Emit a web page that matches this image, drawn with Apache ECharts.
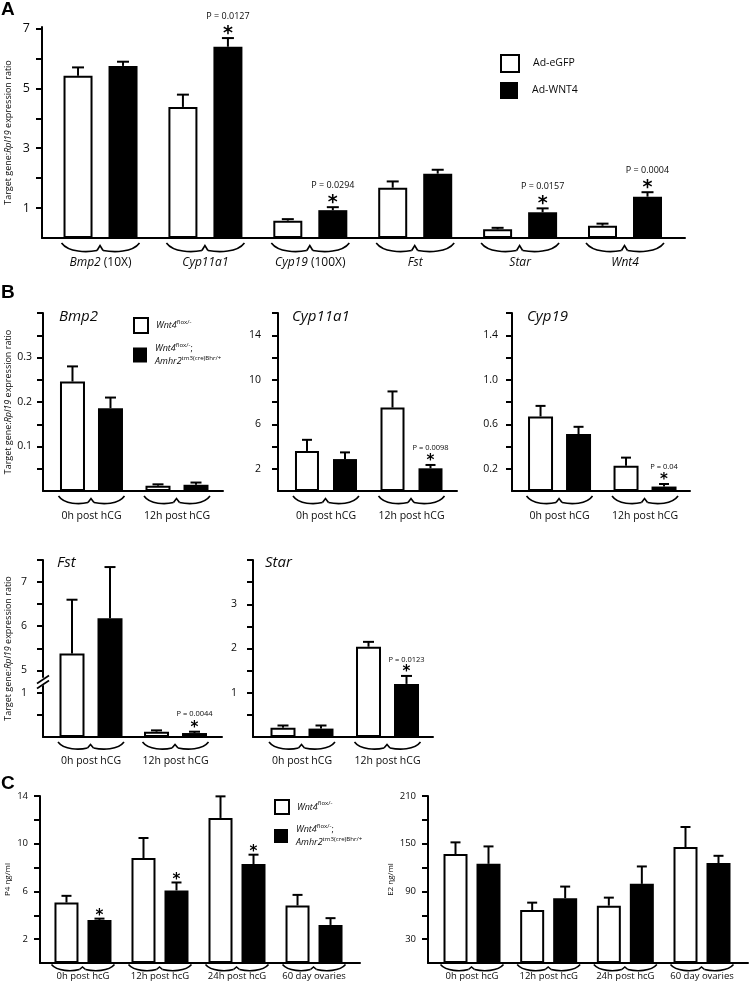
<!DOCTYPE html>
<html><head><meta charset="utf-8">
<script src="https://cdn.jsdelivr.net/npm/echarts@6/dist/echarts.min.js"></script>
<style>html,body{margin:0;padding:0;background:#fff}#c{width:749px;height:990px}</style>
</head><body><div id="c"></div>
<script>
// ================= DATA =================
// Panel A
const aGenes = ['Bmp2', 'Cyp11a1', 'Cyp19', 'Fst', 'Star', 'Wnt4'];
const aGeneNotes = [' (10X)', '', ' (100X)', '', '', ''];
const aEgfp = [5.42, 4.38, 0.58, 1.68, 0.29, 0.41];
const aEgfpSem = [0.28, 0.41, 0.05, 0.21, 0.05, 0.07];
const aWnt4 = [5.75, 6.39, 0.93, 2.15, 0.86, 1.38];
const aWnt4Sem = [0.14, 0.29, 0.10, 0.13, 0.13, 0.15];
const aStars = [false, true, true, false, true, true];
const aPLabels = ['', 'P = 0.0127', 'P = 0.0294', '', 'P = 0.0157', 'P = 0.0004'];
const aYTicks = [1, 2, 3, 4, 5, 6, 7];
const aYLabels = [1, 3, 5, 7];

// Panel B
const bTimes = ['0h post hCG', '12h post hCG'];
const bmp2Ctrl = [0.246, 0.012], bmp2CtrlSem = [0.034, 0.003];
const bmp2Cko = [0.186, 0.014], bmp2CkoSem = [0.024, 0.005];
const bmp2Stars = [false, false], bmp2P = ['', ''];
const bmp2YTicks = [0.05, 0.1, 0.15, 0.2, 0.25, 0.3, 0.35, 0.4];
const bmp2YLabels = [0.1, 0.2, 0.3];

const cyp11Ctrl = [3.6, 7.5], cyp11CtrlSem = [1.0, 1.45];
const cyp11Cko = [2.87, 2.04], cyp11CkoSem = [0.6, 0.3];
const cyp11Stars = [false, true], cyp11P = ['', 'P = 0.0098'];
const cyp11YTicks = [2, 4, 6, 8, 10, 12, 14, 16];
const cyp11YLabels = [2, 6, 10, 14];

const cyp19Ctrl = [0.67, 0.227], cyp19CtrlSem = [0.095, 0.073];
const cyp19Cko = [0.512, 0.04], cyp19CkoSem = [0.065, 0.023];
const cyp19Stars = [false, true], cyp19P = ['', 'P = 0.04'];
const cyp19YTicks = [0.2, 0.4, 0.6, 0.8, 1.0, 1.2, 1.4, 1.6];
const cyp19YLabels = [0.2, 0.6, 1.0, 1.4];

const fstCtrl = [5.38, 0.12], fstCtrlSem = [1.22, 0.03];
const fstCko = [6.18, 0.09], fstCkoSem = [1.16, 0.03];
const fstStars = [false, true], fstP = ['', 'P = 0.0044'];
const fstYTicks = [0.5, 1, 5, 5.5, 6, 6.5, 7, 7.5];
const fstYLabels = [1, 5, 6, 7];
const fstBreakStart = 1.2, fstBreakEnd = 4.85;

const starCtrl = [0.21, 2.04], starCtrlSem = [0.05, 0.11];
const starCko = [0.19, 1.2], starCkoSem = [0.07, 0.18];
const starStars = [false, true], starP = ['', 'P = 0.0123'];
const starYTicks = [0.5, 1, 1.5, 2, 2.5, 3, 3.5, 4];
const starYLabels = [1, 2, 3];

// Panel C
const cTimes = ['0h post hcG', '12h post hcG', '24h post hcG', '60 day ovaries'];
const p4Ctrl = [5.07, 8.8, 12.16, 4.82], p4CtrlSem = [0.56, 1.68, 1.81, 0.89];
const p4Cko = [3.61, 6.08, 8.29, 3.19], p4CkoSem = [0.11, 0.67, 0.79, 0.57];
const p4Stars = [true, true, true, false];
const p4YTicks = [2, 4, 6, 8, 10, 12, 14];
const p4YLabels = [2, 6, 10, 14];

const e2Ctrl = [137, 66.6, 72.1, 145.8], e2CtrlSem = [14.7, 9.3, 10.1, 25.2];
const e2Cko = [124.7, 81.4, 99.5, 125.6], e2CkoSem = [21.9, 14.7, 21.9, 9.2];
const e2Stars = [false, false, false, false];
const e2YTicks = [30, 60, 90, 120, 150, 180, 210];
const e2YLabels = [30, 90, 150, 210];

const nameEgfp = 'Ad-eGFP', nameWnt4 = 'Ad-WNT4';
const nameCtrl = 'Wnt4 flox/-', nameCko = 'Wnt4 flox/-; Amhr2 tm3(cre)Bhr/+';

// ================= STYLE / LAYOUT =================
const FF = '"Open Sans", "DejaVu Sans", sans-serif';
const INK = '#0a0a0a';
function richFor(size) {
  return {
    it: {fontStyle: 'italic', fontSize: size, fontFamily: FF, color: INK},
    n: {fontSize: size, fontFamily: FF, color: INK}
  };
}
const fmtPlain = v => String(v);
const fmtFixed1 = v => v.toFixed(1);

const plots = [
  {left: 42, top: 27, width: 643, height: 211, xMin: -0.558, xMax: 5.572, yMin: 0, yMax: 7.05,
   cats: aGenes, catFmt: (g, k) => `{it|${g}}` + (aGeneNotes[k] ? `{n|${aGeneNotes[k]}}` : ''),
   xLabelSize: 12, xLabelMargin: 19,
   yTicks: aYTicks, yLabels: aYLabels, yLabelFmt: fmtPlain, yLabelSize: 12.5, yLabelMargin: 12,
   yName: 'Target gene:{it|Rpl19} expression ratio', yNameGap: 29, yNameSize: 9,
   names: [nameEgfp, nameWnt4], ctrl: aEgfp, ctrlSem: aEgfpSem, cko: aWnt4, ckoSem: aWnt4Sem,
   stars: aStars, pLabels: aPLabels,
   barWidth: 29, gapPx: 16, capW: 12, starSize: 19, starDy: 10, pSize: 9, pDy: 22,
   brace: {hw: 39, d0: 5, h: 8.5}},
  {left: 43, top: 313, width: 180, height: 178, xMin: -0.567, xMax: 1.538, yMin: 0, yMax: 0.4,
   cats: bTimes, catFmt: g => g, xLabelSize: 10.5, xLabelMargin: 20,
   yTicks: bmp2YTicks, yLabels: bmp2YLabels, yLabelFmt: fmtFixed1, yLabelSize: 10.5, yLabelMargin: 11,
   yName: 'Target gene:{it|Rpl19} expression ratio', yNameGap: 30, yNameSize: 9,
   names: [nameCtrl, nameCko], ctrl: bmp2Ctrl, ctrlSem: bmp2CtrlSem, cko: bmp2Cko, ckoSem: bmp2CkoSem,
   stars: bmp2Stars, pLabels: bmp2P,
   barWidth: 25, gapPx: 13, capW: 11, starSize: 15, starDy: 8, pSize: 7.5, pDy: 17,
   brace: {hw: 33, d0: 5, h: 7.5}},
  {left: 278, top: 313, width: 179, height: 178, xMin: -0.561, xMax: 1.532, yMin: 0, yMax: 16,
   cats: bTimes, catFmt: g => g, xLabelSize: 10.5, xLabelMargin: 20,
   yTicks: cyp11YTicks, yLabels: cyp11YLabels, yLabelFmt: fmtPlain, yLabelSize: 10.5, yLabelMargin: 17,
   names: [nameCtrl, nameCko], ctrl: cyp11Ctrl, ctrlSem: cyp11CtrlSem, cko: cyp11Cko, ckoSem: cyp11CkoSem,
   stars: cyp11Stars, pLabels: cyp11P,
   barWidth: 24, gapPx: 14, capW: 10, starSize: 15, starDy: 8, pSize: 7.5, pDy: 17,
   brace: {hw: 33, d0: 5, h: 7.5}},
  {left: 512, top: 313, width: 178, height: 178, xMin: -0.556, xMax: 1.526, yMin: 0, yMax: 1.6,
   cats: bTimes, catFmt: g => g, xLabelSize: 10.5, xLabelMargin: 20,
   yTicks: cyp19YTicks, yLabels: cyp19YLabels, yLabelFmt: fmtFixed1, yLabelSize: 10.5, yLabelMargin: 14,
   names: [nameCtrl, nameCko], ctrl: cyp19Ctrl, ctrlSem: cyp19CtrlSem, cko: cyp19Cko, ckoSem: cyp19CkoSem,
   stars: cyp19Stars, pLabels: cyp19P,
   barWidth: 25, gapPx: 13, capW: 10, starSize: 15, starDy: 8, pSize: 7.5, pDy: 17,
   brace: {hw: 33, d0: 5, h: 7.5}},
  {left: 43, top: 560, width: 179, height: 177, xMin: -0.568, xMax: 1.55, yMin: 0, yMax: 7.5,
   yBreaks: [{start: fstBreakStart, end: fstBreakEnd, gap: '4%'}],
   cats: bTimes, catFmt: g => g, xLabelSize: 10.5, xLabelMargin: 19,
   yTicks: fstYTicks, yLabels: fstYLabels, yLabelFmt: fmtPlain, yLabelSize: 10.5, yLabelMargin: 16,
   yName: 'Target gene:{it|Rpl19} expression ratio', yNameGap: 30, yNameSize: 9,
   names: [nameCtrl, nameCko], ctrl: fstCtrl, ctrlSem: fstCtrlSem, cko: fstCko, ckoSem: fstCkoSem,
   stars: fstStars, pLabels: fstP,
   barWidth: 25, gapPx: 13, capW: 11, starSize: 15, starDy: 8, pSize: 7.5, pDy: 18,
   brace: {hw: 33, d0: 5, h: 7}},
  {left: 253, top: 560, width: 180, height: 177, xMin: -0.573, xMax: 1.532, yMin: 0, yMax: 4,
   cats: bTimes, catFmt: g => g, xLabelSize: 10.5, xLabelMargin: 19,
   yTicks: starYTicks, yLabels: starYLabels, yLabelFmt: fmtPlain, yLabelSize: 10.5, yLabelMargin: 16,
   names: [nameCtrl, nameCko], ctrl: starCtrl, ctrlSem: starCtrlSem, cko: starCko, ckoSem: starCkoSem,
   stars: starStars, pLabels: starP,
   barWidth: 25, gapPx: 13, capW: 11, starSize: 15, starDy: 8, pSize: 7.5, pDy: 16,
   brace: {hw: 33, d0: 5, h: 7}},
  {left: 40, top: 796, width: 320, height: 167, xMin: -0.558, xMax: 3.597, yMin: 0, yMax: 14,
   cats: cTimes, catFmt: g => g, xLabelSize: 9.5, xLabelMargin: 8.5,
   yTicks: p4YTicks, yLabels: p4YLabels, yLabelFmt: fmtPlain, yLabelSize: 9.5, yLabelMargin: 12,
   yName: 'P4 ηg/ml', yNameGap: 28, yNameSize: 8,
   names: [nameCtrl, nameCko], ctrl: p4Ctrl, ctrlSem: p4CtrlSem, cko: p4Cko, ckoSem: p4CkoSem,
   stars: p4Stars, pLabels: null,
   barWidth: 24, gapPx: 9, capW: 10, starSize: 15, starDy: 7, pSize: 7.5, pDy: 16,
   brace: {hw: 31.5, d0: 1.5, h: 6}},
  {left: 428, top: 796, width: 320, height: 167, xMin: -0.574, xMax: 3.6, yMin: 0, yMax: 210,
   cats: cTimes, catFmt: g => g, xLabelSize: 9.5, xLabelMargin: 8.5,
   yTicks: e2YTicks, yLabels: e2YLabels, yLabelFmt: fmtPlain, yLabelSize: 9.5, yLabelMargin: 12,
   yName: 'E2 ηg/ml', yNameGap: 33, yNameSize: 8,
   names: [nameCtrl, nameCko], ctrl: e2Ctrl, ctrlSem: e2CtrlSem, cko: e2Cko, ckoSem: e2CkoSem,
   stars: e2Stars, pLabels: null,
   barWidth: 24, gapPx: 9, capW: 10, starSize: 15, starDy: 7, pSize: 7.5, pDy: 16,
   brace: {hw: 31.5, d0: 1.5, h: 6}}
];

// ================= BUILD =================
const grids = [], xAxes = [], yAxes = [], series = [];

plots.forEach((p, i) => {
  grids.push({left: p.left, top: p.top, width: p.width, height: p.height, containLabel: false, outerBoundsMode: 'none'});
  xAxes.push({
    type: 'value', gridIndex: i, min: p.xMin, max: p.xMax,
    axisLine: {show: true, onZero: false, lineStyle: {color: '#000', width: 2}},
    axisTick: {show: false}, splitLine: {show: false},
    axisLabel: {show: true, customValues: p.cats.map((c, k) => k),
      formatter: v => p.catFmt(p.cats[Math.round(v)], Math.round(v)),
      margin: p.xLabelMargin, fontSize: p.xLabelSize, fontFamily: FF, color: INK, rich: richFor(p.xLabelSize)}
  });
  const y = {
    type: 'value', gridIndex: i, min: p.yMin, max: p.yMax,
    axisLine: {show: true, onZero: false, lineStyle: {color: '#000', width: 2}},
    axisTick: {show: true, inside: false, length: 6, customValues: p.yTicks, lineStyle: {color: '#000', width: 2}},
    axisLabel: {show: true, customValues: p.yLabels, formatter: p.yLabelFmt, margin: p.yLabelMargin,
      fontSize: p.yLabelSize, fontFamily: FF, color: INK},
    splitLine: {show: false}
  };
  if (p.yName) {
    Object.assign(y, {name: p.yName, nameLocation: 'middle', nameRotate: 90, nameGap: p.yNameGap, nameMoveOverlap: false,
      nameTextStyle: {fontSize: p.yNameSize, fontFamily: FF, color: INK, rich: richFor(p.yNameSize)}});
  }
  if (p.yBreaks) {
    y.breaks = p.yBreaks;
    y.breakArea = {show: true, expandOnClick: false,
      itemStyle: {color: 'rgba(255,255,255,0)', borderColor: 'rgba(0,0,0,0)', borderWidth: 0, opacity: 0}};
  }
  yAxes.push(y);

  const gapPct = (p.gapPx / p.barWidth * 100).toFixed(1) + '%';
  series.push({type: 'bar', name: p.names[0], xAxisIndex: i, yAxisIndex: i, silent: true,
    data: p.ctrl.map((v, k) => [k, v]), barWidth: p.barWidth, barGap: gapPct,
    itemStyle: {color: '#fff', borderColor: '#000', borderWidth: 2}});
  series.push({type: 'bar', name: p.names[1], xAxisIndex: i, yAxisIndex: i, silent: true,
    data: p.cko.map((v, k) => [k, v]), barWidth: p.barWidth, barGap: gapPct,
    itemStyle: {color: '#000', borderColor: '#000', borderWidth: 0}});

  const n = p.ctrl.length;
  const off = (p.barWidth + p.gapPx) / 2;
  const errData = p.ctrl.map((v, k) => [k, v, v + p.ctrlSem[k], -1])
    .concat(p.cko.map((v, k) => [k, v, v + p.ckoSem[k], 1]));
  series.push({type: 'custom', xAxisIndex: i, yAxisIndex: i, clip: false, silent: true, z: 3,
    data: errData,
    renderItem: (params, api) => {
      const x = api.value(0), side = api.value(3);
      const a = api.coord([x, api.value(1)]), b = api.coord([x, api.value(2)]);
      const cx = a[0] + side * off;
      const ch = [
        {type: 'line', shape: {x1: cx, y1: a[1], x2: cx, y2: b[1]}, style: {stroke: '#000', lineWidth: 2}},
        {type: 'line', shape: {x1: cx - p.capW / 2, y1: b[1], x2: cx + p.capW / 2, y2: b[1]}, style: {stroke: '#000', lineWidth: 2}}
      ];
      const idx = params.dataIndex;
      if (idx >= n) {
        const k = idx - n;
        if (p.stars && p.stars[k]) {
          ch.push({type: 'text', style: {text: '*', x: cx, y: b[1] - p.starDy + p.starSize * 0.3,
            align: 'center', verticalAlign: 'middle', fill: '#000',
            font: `bold ${p.starSize}px "DejaVu Sans", sans-serif`}});
        }
        if (p.pLabels && p.pLabels[k]) {
          ch.push({type: 'text', style: {text: p.pLabels[k], x: cx, y: b[1] - p.pDy,
            align: 'center', verticalAlign: 'middle', fill: INK,
            font: `${p.pSize}px "Open Sans", sans-serif`}});
        }
      }
      return {type: 'group', children: ch};
    }});

  // group braces under each category
  const br = p.brace;
  series.push({type: 'custom', xAxisIndex: i, yAxisIndex: i, clip: false, silent: true, z: 3,
    data: p.cats.map((c, k) => [k, p.yMin]),
    renderItem: (params, api) => {
      const c = api.coord([api.value(0), api.value(1)]);
      const cx = c[0], y0 = c[1] + br.d0, y1 = y0 + br.h, hw = br.hw;
      const st = {stroke: '#000', lineWidth: 1.6, fill: null};
      return {type: 'group', children: [
        {type: 'bezierCurve', shape: {x1: cx - hw, y1: y0, cpx1: cx - hw * 0.82, cpy1: y1 + 1,
          cpx2: cx - hw * 0.35, cpy2: y1 + 1, x2: cx - 3.5, y2: y1 - 1}, style: st},
        {type: 'polyline', shape: {points: [[cx - 3.5, y1 - 1], [cx - 0.5, y0 + 2.5], [cx + 2.5, y1 - 1]]}, style: st},
        {type: 'bezierCurve', shape: {x1: cx + 2.5, y1: y1 - 1, cpx1: cx + hw * 0.35, cpy1: y1 + 1,
          cpx2: cx + hw * 0.82, cpy2: y1 + 1, x2: cx + hw, y2: y0}, style: st}
      ]};
    }});

  if (p.yBreaks) {
    const bk = p.yBreaks[0];
    series.push({type: 'custom', xAxisIndex: i, yAxisIndex: i, clip: false, silent: true, z: 4,
      data: [[p.xMin, bk.start, bk.end]],
      renderItem: (params, api) => {
        const a = api.coord([api.value(0), api.value(1)]), b = api.coord([api.value(0), api.value(2)]);
        const x = a[0], ym = (a[1] + b[1]) / 2;
        const st = {stroke: '#000', lineWidth: 1.6};
        return {type: 'group', children: [
          {type: 'polygon', shape: {points: [[x - 3, ym + 2], [x + 3, ym - 2], [x + 3, ym + 3], [x - 3, ym + 7]]}, style: {fill: '#fff'}},
          {type: 'line', shape: {x1: x - 6, y1: ym + 3, x2: x + 6, y2: ym - 5}, style: st},
          {type: 'line', shape: {x1: x - 6, y1: ym + 8, x2: x + 6, y2: ym}, style: st}
        ]};
      }});
  }
});

// ================= LEGENDS =================
const legRich = (size, lh) => ({
  it: {fontStyle: 'italic', fontSize: size, fontFamily: FF, color: INK, lineHeight: lh},
  n: {fontSize: size, fontFamily: FF, color: INK, lineHeight: lh},
  sup: {fontSize: size * 0.68, fontFamily: FF, color: INK, lineHeight: 8, verticalAlign: 'top'}
});
const legFmt = name => {
  if (name === nameCtrl) return '{it|Wnt4}{sup|flox/-}';
  if (name === nameCko) return '{it|Wnt4}{sup|flox/-}{n|;}\n{it|Amhr2}{sup|tm3(cre)Bhr/+}';
  return '{n|' + name + '}';
};
function legendItem(name, left, top, w, h, size, lh, pad, white) {
  return {show: true, left, top, padding: 0, orient: 'vertical', itemWidth: w, itemHeight: h,
    icon: 'rect', selectedMode: false, data: [name], formatter: legFmt,
    itemStyle: white ? {color: '#fff', borderColor: '#000', borderWidth: 2} : {color: '#000', borderColor: '#000', borderWidth: 0},
    textStyle: {fontFamily: FF, fontSize: size, color: INK, padding: [0, 0, 0, pad], rich: legRich(size, lh)}};
}
const legends = [
  legendItem(nameEgfp, 500, 54, 18, 17, 10.5, 14, 9, true),
  legendItem(nameWnt4, 500, 82, 18, 17, 10.5, 14, 9, false),
  legendItem(nameCtrl, 133, 317, 14, 15, 9, 13, 3, true),
  legendItem(nameCko, 133, 342, 14, 15, 9, 13, 3, false),
  legendItem(nameCtrl, 274, 799, 14, 14, 9, 13, 3, true),
  legendItem(nameCko, 274, 823, 14, 14, 9, 13, 3, false)
];

// ================= TITLES =================
const letterStyle = {fontFamily: '"Liberation Sans", Arial, sans-serif', fontWeight: 'bold', fontSize: 19, color: '#000'};
const geneStyle = {fontFamily: FF, fontStyle: 'italic', fontWeight: 'normal', fontSize: 15, color: INK};
const titles = [
  {text: 'A', left: 1, top: 0, padding: 0, textStyle: letterStyle},
  {text: 'B', left: 1, top: 283, padding: 0, textStyle: letterStyle},
  {text: 'C', left: 1, top: 774, padding: 0, textStyle: letterStyle},
  {text: 'Bmp2', left: 59, top: 309, padding: 0, textStyle: geneStyle},
  {text: 'Cyp11a1', left: 292, top: 309, padding: 0, textStyle: geneStyle},
  {text: 'Cyp19', left: 527, top: 309, padding: 0, textStyle: geneStyle},
  {text: 'Fst', left: 57, top: 555, padding: 0, textStyle: geneStyle},
  {text: 'Star', left: 265, top: 555, padding: 0, textStyle: geneStyle}
];

const chart = echarts.init(document.getElementById('c'), null, {renderer: 'canvas'});
chart.setOption({
  backgroundColor: '#fff',
  animation: false,
  title: titles,
  legend: legends,
  grid: grids,
  xAxis: xAxes,
  yAxis: yAxes,
  series: series
});
</script>
</body></html>
